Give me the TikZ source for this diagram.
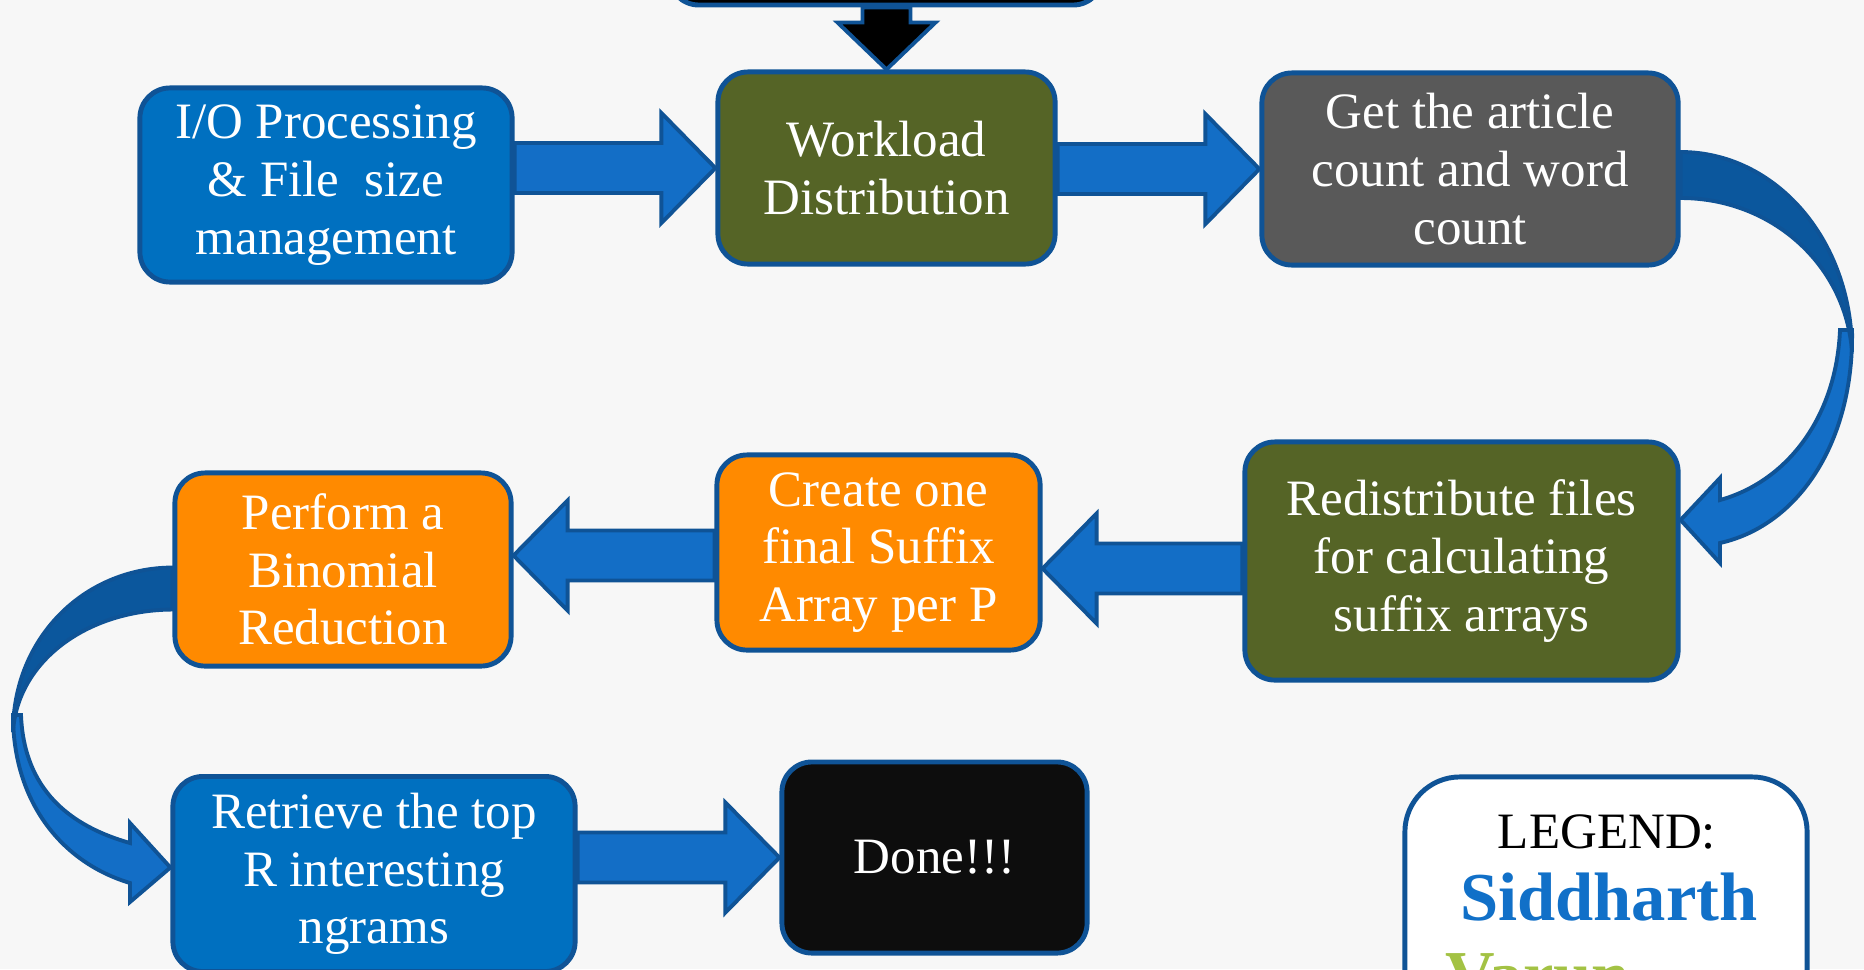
\documentclass[tikz,border=0pt]{standalone}
\usepackage{fontspec}
\setmainfont{Liberation Serif}
\usepackage{tikz}
\usetikzlibrary{calc,backgrounds}
\definecolor{boxline}{HTML}{0F5396}
\definecolor{procblue}{HTML}{0070C0}
\definecolor{stepolive}{HTML}{556426}
\definecolor{stepgray}{HTML}{595959}
\definecolor{steporange}{HTML}{FF8A00}
\definecolor{arrowblue}{HTML}{136EC6}
\definecolor{arrowdark}{HTML}{0B579D}
\definecolor{paper}{HTML}{F7F7F7}
\definecolor{sidblue}{HTML}{1170C8}
\definecolor{varungreen}{HTML}{A3C244}
\newcommand{\boxfont}{\fontsize{14.5}{16.4}\selectfont}
\newcommand{\namefont}{\fontsize{19.5}{22}\selectfont\bfseries}
% fat block arrow, tail x from #1, tip at #2
\newcommand{\fatarrow}[2]{%
  \draw[fatarr] let \p1=(#1), \p2=(#2), \n1={\x2+sign(\x1-\x2)*0.54cm} in
    (\x1,\y2+0.25cm) -- (\n1,\y2+0.25cm) -- (\n1,\y2+0.55cm) -- (\x2,\y2)
    -- (\n1,\y2-0.55cm) -- (\n1,\y2-0.25cm) -- (\x1,\y2-0.25cm) -- cycle;}

\begin{document}
\begin{tikzpicture}[x=0.01cm, y=-0.01cm,
  stepbox/.style={draw=boxline, line width=1.4pt, rounded corners=0.3cm, text=white, align=center, font=\boxfont, inner sep=0pt},
  fatarr/.style={draw=boxline, line width=1.1pt, fill=arrowblue, line join=miter},
  curvlight/.style={draw=boxline, line width=1.1pt, fill=arrowblue},
  curvdark/.style={draw=boxline, line width=1.1pt, fill=arrowdark}
]
  \useasboundingbox (0,0) rectangle (1864,969);

  \node[stepbox, fill=black, minimum width=4.34cm, minimum height=0.9cm] (input) at (886,-40) {};
  \node[stepbox, fill=procblue, minimum width=3.72cm, minimum height=1.94cm] (io) at (326,185) {I/O Processing\\ \& File~ size\\ management};
  \node[stepbox, fill=stepolive, minimum width=3.37cm, minimum height=1.92cm] (work) at (886.5,168) {Workload\\ Distribution};
  \node[stepbox, fill=stepgray, minimum width=4.16cm, minimum height=1.92cm] (get) at (1470,169) {Get the article\\ count and word\\ count};
  \node[stepbox, fill=stepolive, minimum width=4.33cm, minimum height=2.38cm] (redis) at (1461.5,561) {Redistribute files\\ for calculating\\ suffix arrays};
  \node[stepbox, fill=steporange, minimum width=3.23cm, minimum height=1.95cm] (create) at (878.5,552.5) {Create one\\ final Suffix\\ Array per P};
  \node[stepbox, fill=steporange, minimum width=3.36cm, minimum height=1.93cm] (perform) at (343,569.5) {Perform a\\ Binomial\\ Reduction};
  \node[stepbox, fill=procblue, minimum width=4.02cm, minimum height=1.95cm] (retrieve) at (374,874) {Retrieve the top\\ R interesting\\ ngrams};
  \node[stepbox, fill=black!95, minimum width=3.05cm, minimum height=1.91cm] (done) at (934.5,857.5) {Done!!!};

  % legend
  \node[draw=boxline, line width=1.4pt, fill=white, rounded corners=0.55cm, minimum width=4.02cm, minimum height=3cm] (legend) at (1606,927) {};
  \node[anchor=base, font=\boxfont] (legtitle) at (1607,848) {LEGEND:};
  \node[anchor=base, font=\namefont, text=sidblue] (sid) at (1609,920) {Siddharth};
  \node[anchor=base west, font=\namefont, text=varungreen, inner sep=0pt] (varun) at (1445,998) {Varun};

  \begin{scope}[on background layer]
    \fill[paper] (0,0) rectangle (1864,969);
    \draw[fatarr, fill=black] let \p1=(input.south), \p2=(work.north) in
      (\x2-0.24cm,\y1) -- (\x2-0.24cm,\y2+0.47cm) -- (\x2-0.49cm,\y2+0.47cm) -- (\x2,\y2)
      -- (\x2+0.49cm,\y2+0.47cm) -- (\x2+0.24cm,\y2+0.47cm) -- (\x2+0.24cm,\y1) -- cycle;
    \fatarrow{io.east}{work.west}
    \fatarrow{work.east}{get.west}
    \fatarrow{redis.west}{$(create.east)+(0,16)$}
    \fatarrow{create.west}{$(perform.east)+(0,-14)$}
    \fatarrow{retrieve.east}{done.west}

    % curved arrow down the right side
    \draw[curvlight] (1852,330) .. controls (1854,440) and (1800,525) .. (1720,543)
      -- (1720,563) -- ([yshift=0.41cm]redis.east) -- (1720,478) -- (1720,500)
      .. controls (1785,482) and (1836,420) .. (1840,330) -- cycle;
    \draw[curvdark] ([yshift=0.17cm]get.east) .. controls (1775,152) and (1852,239) .. (1852,352)
      .. controls (1846,265) and (1772,198) .. ([yshift=-0.29cm]get.east) -- cycle;

    % curved arrow down the left side
    \draw[curvlight] (13,715) .. controls (13,800) and (60,862) .. (130,883)
      -- (130,902) -- ([yshift=0.065cm]retrieve.west) -- (130,823) -- (130,843)
      .. controls (70,826) and (24,790) .. (21,715) -- cycle;
    \draw[curvdark] ([yshift=0.02cm]perform.west) .. controls (83,568) and (13,639) .. (13,732)
      .. controls (17,662) and (86,610) .. ([yshift=-0.4cm]perform.west) -- cycle;
  \end{scope}
\end{tikzpicture}
\end{document}
